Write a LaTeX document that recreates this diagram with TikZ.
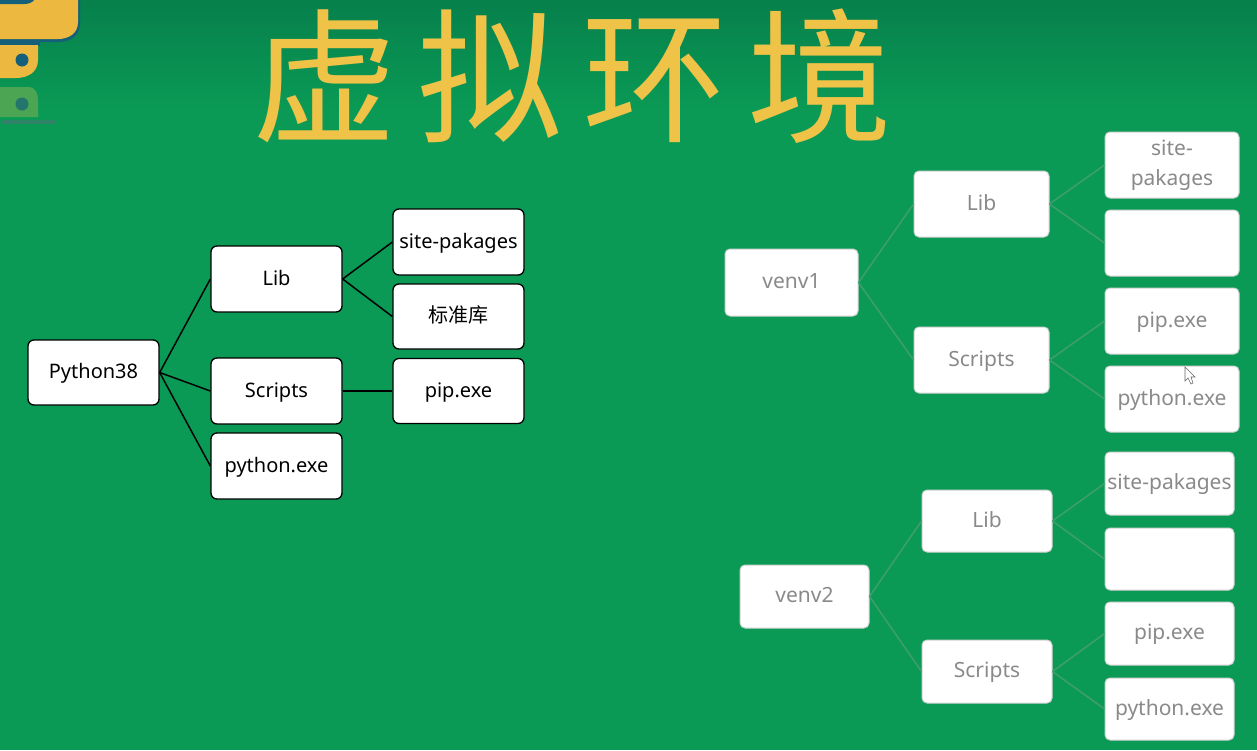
\documentclass[tikz,border=0pt]{standalone}
\usepackage{fontspec}
\setmainfont{Noto Sans}
\newfontfamily\cjk{Noto Sans CJK SC}
\newfontfamily\titlefont[LetterSpace=14]{Noto Sans CJK SC}
\definecolor{bgtop}{HTML}{07804C}
\definecolor{bgmid}{HTML}{0A9A55}
\definecolor{gold}{HTML}{EFC248}
\definecolor{logogold}{HTML}{EDB83F}
\definecolor{logoblue}{HTML}{14607A}
\definecolor{fadeG}{HTML}{4BA552}
\definecolor{softink}{HTML}{8A8A8A}
\definecolor{softedge}{HTML}{3F9E6E}
\tikzset{
  x=1pt,y=-1pt,
  darkbox/.style={draw=black,line width=1.3pt,fill=white,rounded corners=6pt,inner sep=0pt,
    text=black,font=\fontsize{20}{22}\selectfont,align=center,text height=15pt,text depth=3pt},
  softbox/.style={draw=black!18,line width=1pt,fill=white,rounded corners=5pt,inner sep=0pt,
    text=softink,font=\fontsize{21}{30}\selectfont,align=center,text height=15pt,text depth=3pt},
  boxsize/.style args={#1,#2,#3,#4}{minimum width=#3-#1,minimum height=#4-#2},
  darkline/.style={draw=black,line width=1.5pt},
  softline/.style={draw=softedge,line width=1.5pt},
}
\begin{document}
\begin{tikzpicture}
\useasboundingbox (0,0) rectangle (1257,750);
\shade[top color=bgtop,bottom color=bgmid] (0,0) rectangle (1257,110);
\fill[bgmid] (0,110) rectangle (1257,750);
% python logo, top left corner
\fill[logoblue] (0,39) rectangle (40,46);
\fill[logoblue] (60,0) -- (80,0) -- (80,24) .. controls (80,36) and (70,42) .. (58,42) -- (30,42) -- cycle;
\fill[fadeG] (0,87) -- (28,87) .. controls (36,87) and (38,94) .. (38,100) -- (38,117) -- (0,117) -- cycle;
\fill[logoblue!70!fadeG] (22,104) circle (6.5);
\fill[logoblue!50!fadeG] (2,120) rectangle (55,124);
\fill[logogold] (0,0) -- (78,0) -- (78,22) .. controls (78,34) and (68,39) .. (58,39) -- (0,39) -- cycle;
\fill[logogold] (0,45) -- (38,45) -- (38,60) .. controls (38,72) and (28,78) .. (16,78) -- (0,78) -- cycle;
\fill[logoblue] (0,0) -- (34,0) .. controls (32,3) and (28,4) .. (24,4) -- (0,4) -- cycle;
\fill[logoblue] (22,60) circle (6.5);
% title
\node[text=gold,inner sep=0pt,anchor=west,font=\titlefont\fontsize{145}{155}\selectfont] (title) at (252,76) {虚拟环境};
% left tree
\node[darkbox,boxsize={28,340,159,405}] (py) at (93.5,372.5) {Python38};
\node[darkbox,boxsize={211,246,342,312}] (lib) at (276.5,279) {Lib};
\node[darkbox,boxsize={211,358,342,424}] (scr) at (276.5,391) {Scripts};
\node[darkbox,boxsize={211,433,342,499}] (pex) at (276.5,466) {python.exe};
\node[darkbox,boxsize={393,209,524,275}] (site) at (458.5,242) {site-pakages};
\node[darkbox,boxsize={393,284,524,349}] (std) at (458.5,316.5) {\cjk 标准库};
\node[darkbox,boxsize={393,359,524,424}] (pip) at (458.5,391) {pip.exe};
\draw[darkline] (py.east) -- (lib.west);
\draw[darkline] (py.east) -- (scr.west);
\draw[darkline] (py.east) -- (pex.west);
\draw[darkline] (lib.east) -- (site.west);
\draw[darkline] (lib.east) -- (std.west);
\draw[darkline] (scr.east) -- (pip.west);
% venv1
\node[softbox,boxsize={725,249,858,316}] (va) at (791.5,282.5) {venv1};
\node[softbox,boxsize={914,171,1049,237}] (alib) at (981.5,204) {Lib};
\node[softbox,boxsize={914,327,1049,393}] (ascr) at (981.5,360) {Scripts};
\node[softbox,boxsize={1105,132,1239,198},text height=40pt,text depth=0pt] (asite) at (1172,165) {site-\\pakages};
\node[softbox,boxsize={1105,210,1239,276}] (ablank) at (1172,243) {};
\node[softbox,boxsize={1105,288,1239,354}] (apip) at (1172,321) {pip.exe};
\node[softbox,boxsize={1105,366,1239,432}] (apex) at (1172,399) {python.exe};
\draw[softline] (va.east) -- (alib.west);
\draw[softline] (va.east) -- (ascr.west);
\draw[softline] (alib.east) -- (asite.west);
\draw[softline] (alib.east) -- (ablank.west);
\draw[softline] (ascr.east) -- (apip.west);
\draw[softline] (ascr.east) -- (apex.west);
% venv2
\node[softbox,boxsize={740,565,869,628}] (vb) at (804.5,596.5) {venv2};
\node[softbox,boxsize={922,490,1052,552}] (blib) at (987,521) {Lib};
\node[softbox,boxsize={922,640,1052,703}] (bscr) at (987,671.5) {Scripts};
\node[softbox,boxsize={1105,452,1234,515}] (bsite) at (1169.5,483.5) {site-pakages};
\node[softbox,boxsize={1105,528,1234,590}] (bblank) at (1169.5,559) {};
\node[softbox,boxsize={1105,602,1234,665}] (bpip) at (1169.5,633.5) {pip.exe};
\node[softbox,boxsize={1105,678,1234,740}] (bpex) at (1169.5,709) {python.exe};
\draw[softline] (vb.east) -- (blib.west);
\draw[softline] (vb.east) -- (bscr.west);
\draw[softline] (blib.east) -- (bsite.west);
\draw[softline] (blib.east) -- (bblank.west);
\draw[softline] (bscr.east) -- (bpip.west);
\draw[softline] (bscr.east) -- (bpex.west);
% mouse pointer
\filldraw[draw=black!60,fill=white,line width=0.6pt] (1185,367) -- (1185,381) -- (1188,378) -- (1191,384) -- (1193,383) -- (1191,377) -- (1195,377) -- cycle;
\end{tikzpicture}
\end{document}
